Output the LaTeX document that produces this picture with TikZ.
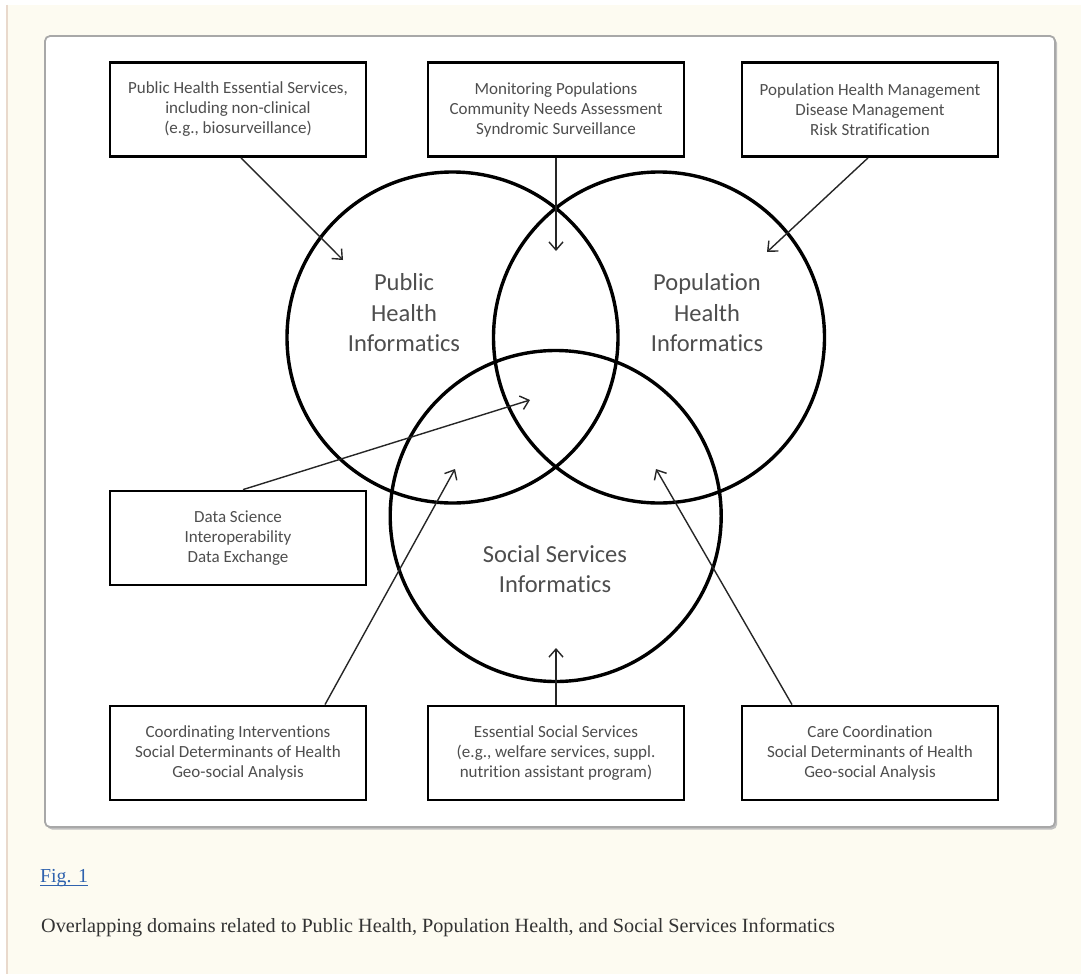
\documentclass[tikz,border=0pt]{standalone}
\usepackage{fontspec}
\setmainfont[Ligatures=NoCommon]{Carlito}
\newfontfamily\capfont{Liberation Serif}
\usetikzlibrary{arrows.meta}
\definecolor{bgcream}{HTML}{FDFBF1}
\definecolor{pageline}{HTML}{E9D9CC}
\definecolor{panelline}{HTML}{A8A8A8}
\definecolor{linkblue}{HTML}{2F62AE}
\definecolor{captext}{HTML}{333333}
\definecolor{boxtext}{HTML}{4E4E4E}
\begin{document}
\begin{tikzpicture}[x=1pt,y=-1pt,
  infobox/.style={draw=black, line width=2.8pt, minimum width=256pt, minimum height=94pt,
    inner sep=0pt, align=center, font=\fontsize{17}{20}\selectfont, text=boxtext, fill=white},
  venncircle/.style={draw=black, line width=3.4pt, circle, minimum size=331pt, inner sep=0pt},
  vennlabel/.style={align=center, font=\fontsize{24.5}{30.5}\selectfont, text=boxtext},
  conn/.style={draw=black!85, line width=1.4pt,
    -{Straight Barb[length=8pt,width=14pt,line width=1.4pt]}}
]
\useasboundingbox (0,0) rectangle (1081,974);
% page background
\fill[white] (0,0) rectangle (1081,974);
\fill[bgcream] (7,5) rectangle (1081,974);
\draw[pageline, line width=1.2pt] (7,5) -- (7,974);
% panel
\fill[black!25, rounded corners=5pt] (47,38) rectangle (1057,829.5);
\draw[panelline, line width=1.8pt, fill=white, rounded corners=5pt] (45,36) rectangle (1055,827);

% domains
\node[venncircle] (ph) at (452.5,337.5) {};
\node[venncircle] (pop) at (659,337.5) {};
\node[venncircle] (ss) at (555.7,516) {};
\node[vennlabel] (phl) at (404,313) {Public\\Health\\Informatics};
\node[vennlabel] (popl) at (707,313) {Population\\Health\\Informatics};
\node[vennlabel] (ssl) at (555,569) {Social Services\\Informatics};

% boxes
\node[infobox] (b1) at (238,109.5) {Public Health Essential Services,\\including non-clinical\\(e.g., biosurveillance)};
\node[infobox] (b2) at (556,109.5) {Monitoring Populations\\Community Needs Assessment\\Syndromic Surveillance};
\node[infobox] (b3) at (870,109.5) {Population Health Management\\Disease Management\\Risk Stratification};
\node[infobox] (b4) at (238,538) {Data Science\\Interoperability\\Data Exchange};
\node[infobox] (b5) at (238,753) {Coordinating Interventions\\Social Determinants of Health\\Geo-social Analysis};
\node[infobox] (b6) at (556,753) {Essential Social Services\\(e.g., welfare services, suppl.\\nutrition assistant program)};
\node[infobox] (b7) at (870,753) {Care Coordination\\Social Determinants of Health\\Geo-social Analysis};

% arrow targets
\coordinate (t1) at (343,260);
\coordinate (t2) at (556,251);
\coordinate (t3) at (767,252);
\coordinate (t4) at (530,400);
\coordinate (t5) at (455,469);
\coordinate (t6) at (556,648);
\coordinate (t7) at (656,469);

\draw[conn] ([xshift=3pt]b1.south) -- (t1);
\draw[conn] (b2.south) -- (t2);
\draw[conn] ([xshift=-2pt]b3.south) -- (t3);
\draw[conn] ([xshift=5pt]b4.north) -- (t4);
\draw[conn] ([xshift=87pt]b5.north) -- (t5);
\draw[conn] (b6.north) -- (t6);
\draw[conn] ([xshift=-78pt]b7.north) -- (t7);

% caption
\node[anchor=base west, inner sep=0pt, font=\capfont\fontsize{19.8}{22}\selectfont, text=linkblue] (fig) at (40,882) {Fig. 1};
\draw[linkblue, line width=0.9pt] ([yshift=-3pt]fig.base west) -- ([yshift=-3pt]fig.base east);
\node[anchor=base west, inner sep=0pt, font=\capfont\fontsize{20.2}{23}\selectfont, text=captext] (cap) at (41,932)
  {Overlapping domains related to Public Health, Population Health, and Social Services Informatics};
\end{tikzpicture}
\end{document}
